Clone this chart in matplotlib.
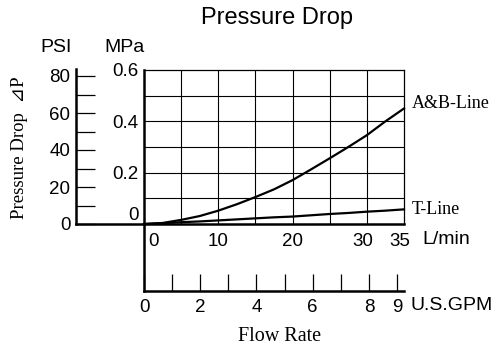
import matplotlib
matplotlib.use("Agg")
import matplotlib.pyplot as plt
from matplotlib.transforms import ScaledTranslation

# flow rate (L/min) and pressure drop (MPa)
FLOW_LPM = [0, 2.5, 5, 7.5, 10, 12.5, 15, 17.5, 20, 22.5, 25, 27.5, 30, 32.5, 35]
AB_LINE_MPA = [0, 0.004, 0.016, 0.031, 0.052, 0.077, 0.105, 0.135, 0.171,
               0.213, 0.256, 0.300, 0.346, 0.400, 0.450]
T_LINE_MPA = [0, 0.003, 0.007, 0.010, 0.014, 0.018, 0.022, 0.026, 0.029,
              0.034, 0.039, 0.043, 0.048, 0.052, 0.057]

LPM_TICKS = [0, 10, 20, 30, 35]
MPA_TICKS = [0, 0.2, 0.4, 0.6]
PSI_TICKS = [0, 20, 40, 60, 80]
PSI_MINOR = [10, 30, 50, 70]
GPM_TICKS = [0, 1, 2, 3, 4, 5, 6, 7, 8, 9]
GPM_LABELS = ["0", "", "2", "", "4", "", "6", "", "8", "9"]

LPM_PER_GPM = 3.785

W, H = 499, 347
SANS = ["Liberation Sans", "DejaVu Sans"]
SERIF = ["Liberation Serif", "DejaVu Serif", "DejaVu Sans"]

plt.rcParams["font.family"] = SANS


def fx(px):
    return px / W


def fy(py):
    return 1 - py / H


fig = plt.figure(figsize=(W / 100, H / 100), dpi=100)

# main grid (L/min vs MPa)
ax = fig.add_axes([fx(144), fy(224), 260 / W, 154 / H])
ax.set_xlim(0, 35)
ax.set_ylim(0, 0.6)
for xv in range(5, 35, 5):
    ax.axvline(xv, color="black", linewidth=0.8, zorder=1)
for yv in range(1, 6):
    ax.axhline(yv / 10, color="black", linewidth=0.8, zorder=1)
ax.set_xticks(LPM_TICKS)
ax.set_xticklabels([str(v) for v in LPM_TICKS])
ax.set_yticks(MPA_TICKS)
ax.set_yticklabels(["0", "0.2", "0.4", "0.6"])
ax.tick_params(which="both", length=0)
ax.tick_params(axis="x", pad=6.5, labelsize=13.5)
ax.tick_params(axis="y", pad=4, labelsize=13.5)
for side in ("top", "right"):
    ax.spines[side].set_linewidth(0.9)
for side in ("left", "bottom"):
    ax.spines[side].set_linewidth(1.8)

xlabels = ax.get_xticklabels()
xlabels[0].set_horizontalalignment("left")
xlabels[0].set_transform(xlabels[0].get_transform()
                         + ScaledTranslation(4 / 100, 0, fig.dpi_scale_trans))
for lab in xlabels[3:]:
    lab.set_transform(lab.get_transform()
                      + ScaledTranslation(-4 / 100, 0, fig.dpi_scale_trans))
ylabels = ax.get_yticklabels()
ylabels[0].set_transform(ylabels[0].get_transform()
                         + ScaledTranslation(0, 10 / 100, fig.dpi_scale_trans))

ax.plot(FLOW_LPM, AB_LINE_MPA, color="black", linewidth=1.6, clip_on=False,
        zorder=3)
ax.plot(FLOW_LPM, T_LINE_MPA, color="black", linewidth=1.6, clip_on=False,
        zorder=3)

# PSI scale on the far left
ax_psi = fig.add_axes([fx(76), fy(224), 68 / W, 155 / H])
ax_psi.set_ylim(0, 155 / 1.85)
ax_psi.set_xlim(0, 1)
ax_psi.patch.set_alpha(0)
for side in ("top", "right"):
    ax_psi.spines[side].set_visible(False)
for side in ("left", "bottom"):
    ax_psi.spines[side].set_linewidth(1.8)
ax_psi.set_xticks([])
ax_psi.set_yticks(PSI_TICKS)
ax_psi.set_yticks(PSI_MINOR, minor=True)
ax_psi.tick_params(axis="y", which="both", direction="in", length=13.5,
                   width=0.9, pad=4, labelsize=13.5)

# U.S.GPM scale below
ax_gpm = fig.add_axes([fx(144), fy(291), 260 / W, 67 / H])
ax_gpm.set_xlim(0, 35 / LPM_PER_GPM)
ax_gpm.set_ylim(0, 1)
ax_gpm.patch.set_alpha(0)
for side in ("top", "right"):
    ax_gpm.spines[side].set_visible(False)
for side in ("left", "bottom"):
    ax_gpm.spines[side].set_linewidth(1.8)
ax_gpm.set_yticks([])
ax_gpm.set_xticks(GPM_TICKS)
ax_gpm.set_xticklabels(GPM_LABELS)
ax_gpm.tick_params(axis="x", direction="in", length=12.5, width=0.9,
                   pad=5.5, labelsize=13.5)

# texts
fig.text(fx(277), fy(24), "Pressure Drop", ha="center", va="baseline",
         fontsize=17)
fig.text(fx(56), fy(47.5), "PSI", ha="center", va="center", fontsize=14)
fig.text(fx(125), fy(47.5), "MPa", ha="center", va="center", fontsize=14)
fig.text(fx(422), fy(240), "L/min", ha="left", va="center", fontsize=14)
fig.text(fx(411), fy(306), "U.S.GPM", ha="left", va="center", fontsize=14)
fig.text(fx(412), fy(104), "A&B-Line", ha="left", va="center", fontsize=13,
         family=SERIF)
fig.text(fx(412), fy(209), "T-Line", ha="left", va="center", fontsize=13,
         family=SERIF)
fig.text(fx(280), fy(341), "Flow Rate", ha="center", va="baseline",
         fontsize=14.5, family=SERIF)
fig.text(fx(20), fy(148), "Pressure Drop  \u22bfP", ha="center", va="center",
         rotation=90, fontsize=13.5, family=SERIF)

fig.savefig("out.png", dpi=100)
